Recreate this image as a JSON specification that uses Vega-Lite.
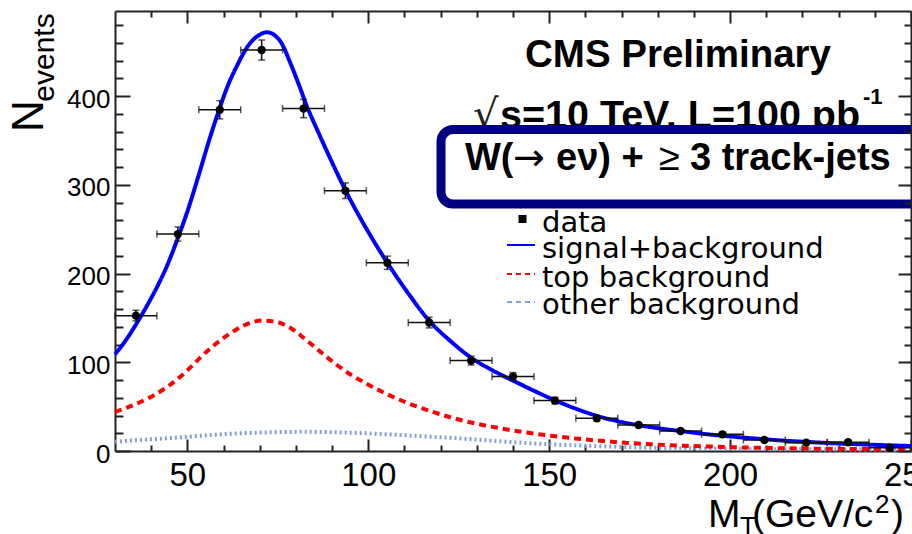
{
  "$schema": "https://vega.github.io/schema/vega-lite/v6.json",
  "width": 796,
  "height": 440,
  "autosize": {"type": "none"},
  "padding": {"left": 115, "top": 11, "right": 1, "bottom": 83},
  "background": "white",
  "view": {"stroke": null},
  "config": {
    "axis": {"grid": false, "title": null, "tickColor": "#222", "tickWidth": 2, "domainColor": "#222", "domainWidth": 2, "labelFont": "Liberation Sans", "labelColor": "#000", "labelFlush": false, "labelOverlap": false}
  },
  "datasets": {
    "pts": [
      {"mt": 35.79, "lo": 30, "hi": 41.58, "n": 152.6, "nlo": 146.6, "nhi": 158.6},
      {"mt": 47.37, "lo": 41.58, "hi": 53.16, "n": 244.5, "nlo": 236.5, "nhi": 252.5},
      {"mt": 58.95, "lo": 53.16, "hi": 64.74, "n": 384.7, "nlo": 374.4, "nhi": 395},
      {"mt": 70.53, "lo": 64.74, "hi": 76.32, "n": 452, "nlo": 440.7, "nhi": 463.3},
      {"mt": 82.11, "lo": 76.32, "hi": 87.89, "n": 386, "nlo": 375.7, "nhi": 396.3},
      {"mt": 93.68, "lo": 87.89, "hi": 99.47, "n": 293.4, "nlo": 284.6, "nhi": 302.2},
      {"mt": 105.26, "lo": 99.47, "hi": 111.05, "n": 212.2, "nlo": 204.7, "nhi": 219.7},
      {"mt": 116.84, "lo": 111.05, "hi": 122.63, "n": 144.8, "nlo": 138.8, "nhi": 150.8},
      {"mt": 128.42, "lo": 122.63, "hi": 134.21, "n": 101.9, "nlo": 96.9, "nhi": 106.9},
      {"mt": 140, "lo": 134.21, "hi": 145.79, "n": 83.9, "nlo": 79.4, "nhi": 88.4},
      {"mt": 151.58, "lo": 145.79, "hi": 157.37, "n": 56.8, "nlo": 53, "nhi": 60.6},
      {"mt": 163.16, "lo": 157.37, "hi": 168.95, "n": 36.9, "nlo": 33.9, "nhi": 39.9},
      {"mt": 174.74, "lo": 168.95, "hi": 180.53, "n": 29.3, "nlo": 26.6, "nhi": 32},
      {"mt": 186.32, "lo": 180.53, "hi": 192.11, "n": 22.6, "nlo": 20.2, "nhi": 25},
      {"mt": 197.89, "lo": 192.11, "hi": 203.68, "n": 18.8, "nlo": 16.6, "nhi": 21},
      {"mt": 209.47, "lo": 203.68, "hi": 215.26, "n": 12.4, "nlo": 10.6, "nhi": 14.2},
      {"mt": 221.05, "lo": 215.26, "hi": 226.84, "n": 9.4, "nlo": 7.9, "nhi": 10.9},
      {"mt": 232.63, "lo": 226.84, "hi": 238.42, "n": 9.8, "nlo": 8.2, "nhi": 11.4},
      {"mt": 244.21, "lo": 238.42, "hi": 250, "n": 3.7, "nlo": 2.7, "nhi": 4.7}
    ],
    "curves": [
      {"s": "other", "x": 30, "y": 10.5}, {"s": "other", "x": 37, "y": 12.5}, {"s": "other", "x": 44.3, "y": 14.3}, {"s": "other", "x": 53, "y": 17}, {"s": "other", "x": 62.7, "y": 19.6}, {"s": "other", "x": 72, "y": 21}, {"s": "other", "x": 83, "y": 21.6}, {"s": "other", "x": 91, "y": 21.1}, {"s": "other", "x": 99.6, "y": 19.9}, {"s": "other", "x": 112, "y": 17.3}, {"s": "other", "x": 125.5, "y": 14.1}, {"s": "other", "x": 133, "y": 12}, {"s": "other", "x": 141.2, "y": 9.6}, {"s": "other", "x": 150, "y": 7.6}, {"s": "other", "x": 159.7, "y": 6}, {"s": "other", "x": 168, "y": 4.8}, {"s": "other", "x": 178, "y": 3.8}, {"s": "other", "x": 190, "y": 3}, {"s": "other", "x": 205.3, "y": 2.3}, {"s": "other", "x": 225, "y": 1.8}, {"s": "other", "x": 250, "y": 1.5},
      {"s": "top", "x": 30, "y": 44}, {"s": "top", "x": 33, "y": 48.5}, {"s": "top", "x": 36.9, "y": 55}, {"s": "top", "x": 41, "y": 63.5}, {"s": "top", "x": 45.2, "y": 74.5}, {"s": "top", "x": 49.5, "y": 89}, {"s": "top", "x": 53.5, "y": 105}, {"s": "top", "x": 57, "y": 118}, {"s": "top", "x": 60.9, "y": 130}, {"s": "top", "x": 64, "y": 138}, {"s": "top", "x": 67, "y": 144}, {"s": "top", "x": 70.8, "y": 147}, {"s": "top", "x": 74, "y": 146}, {"s": "top", "x": 78.4, "y": 139}, {"s": "top", "x": 82, "y": 128}, {"s": "top", "x": 86.7, "y": 112}, {"s": "top", "x": 91, "y": 98}, {"s": "top", "x": 95, "y": 86.5}, {"s": "top", "x": 99, "y": 77}, {"s": "top", "x": 104.2, "y": 66}, {"s": "top", "x": 110, "y": 55.5}, {"s": "top", "x": 117.2, "y": 45}, {"s": "top", "x": 122.7, "y": 38}, {"s": "top", "x": 129, "y": 31.5}, {"s": "top", "x": 136.5, "y": 25.6}, {"s": "top", "x": 143, "y": 21.2}, {"s": "top", "x": 150.4, "y": 17.3}, {"s": "top", "x": 157, "y": 14.2}, {"s": "top", "x": 164.2, "y": 11.5}, {"s": "top", "x": 171, "y": 9.3}, {"s": "top", "x": 178, "y": 7.6}, {"s": "top", "x": 187, "y": 6}, {"s": "top", "x": 196.5, "y": 4.8}, {"s": "top", "x": 205, "y": 3.9}, {"s": "top", "x": 214.9, "y": 3.1}, {"s": "top", "x": 232, "y": 2.3}, {"s": "top", "x": 250, "y": 1.9},
      {"s": "sig", "x": 30, "y": 109}, {"s": "sig", "x": 33, "y": 125}, {"s": "sig", "x": 36, "y": 144}, {"s": "sig", "x": 39, "y": 165}, {"s": "sig", "x": 42, "y": 188}, {"s": "sig", "x": 44.3, "y": 208}, {"s": "sig", "x": 47, "y": 236}, {"s": "sig", "x": 50, "y": 270}, {"s": "sig", "x": 53.5, "y": 316}, {"s": "sig", "x": 56, "y": 350}, {"s": "sig", "x": 58.8, "y": 385}, {"s": "sig", "x": 61, "y": 410}, {"s": "sig", "x": 63.8, "y": 435}, {"s": "sig", "x": 67.2, "y": 459}, {"s": "sig", "x": 69.5, "y": 468}, {"s": "sig", "x": 72, "y": 472}, {"s": "sig", "x": 74, "y": 469}, {"s": "sig", "x": 76, "y": 460}, {"s": "sig", "x": 78.4, "y": 438}, {"s": "sig", "x": 81, "y": 411}, {"s": "sig", "x": 83, "y": 389}, {"s": "sig", "x": 86, "y": 361}, {"s": "sig", "x": 89, "y": 334}, {"s": "sig", "x": 93.8, "y": 293}, {"s": "sig", "x": 100, "y": 247}, {"s": "sig", "x": 105.3, "y": 212}, {"s": "sig", "x": 111, "y": 178}, {"s": "sig", "x": 116.8, "y": 147}, {"s": "sig", "x": 122.7, "y": 124}, {"s": "sig", "x": 128.5, "y": 105}, {"s": "sig", "x": 134.3, "y": 91}, {"s": "sig", "x": 140.2, "y": 79}, {"s": "sig", "x": 146, "y": 67.5}, {"s": "sig", "x": 151.7, "y": 57}, {"s": "sig", "x": 157.5, "y": 47.5}, {"s": "sig", "x": 163.3, "y": 39.5}, {"s": "sig", "x": 169, "y": 33.5}, {"s": "sig", "x": 174.8, "y": 29}, {"s": "sig", "x": 180.5, "y": 25.5}, {"s": "sig", "x": 186.3, "y": 22.5}, {"s": "sig", "x": 192, "y": 19.6}, {"s": "sig", "x": 198.3, "y": 17}, {"s": "sig", "x": 204, "y": 15}, {"s": "sig", "x": 209.9, "y": 13.1}, {"s": "sig", "x": 215.5, "y": 11.5}, {"s": "sig", "x": 221.4, "y": 10.2}, {"s": "sig", "x": 227, "y": 9}, {"s": "sig", "x": 233, "y": 8}, {"s": "sig", "x": 241, "y": 6.8}, {"s": "sig", "x": 250, "y": 5.6}
    ]
  },
  "resolve": {"axis": {"x": "independent", "y": "independent"}},
  "layer": [
    {
      "data": {"name": "curves"},
      "mark": {"type": "line", "strokeWidth": 4, "interpolate": "monotone"},
      "encoding": {
        "x": {"field": "x", "type": "quantitative", "scale": {"domain": [30, 250], "nice": false, "zero": false},
              "axis": {"orient": "top", "values": [40, 60, 70, 80, 90, 110, 120, 130, 140, 160, 170, 180, 190, 210, 220, 230, 240], "labels": false, "domain": false, "tickSize": -6}},
        "y": {"field": "y", "type": "quantitative", "scale": {"domain": [0, 496], "nice": false, "zero": false},
              "axis": {"orient": "right", "values": [20, 40, 60, 80, 120, 140, 160, 180, 220, 240, 260, 280, 320, 340, 360, 380, 420, 440, 460, 480], "labels": false, "domain": false, "tickSize": -7, "zindex": 2}},
        "color": {"field": "s", "type": "nominal", "scale": {"domain": ["other", "top", "sig"], "range": ["#7f9fdf", "#ff0000", "#0000ff"]}, "legend": null},
        "strokeDash": {"field": "s", "type": "nominal", "scale": {"domain": ["other", "top", "sig"], "range": [[2, 3], [7, 5], [1, 0]]}, "legend": null}
      }
    },
    {
      "data": {"name": "pts"},
      "mark": {"type": "rule", "strokeWidth": 1.5, "color": "#111"},
      "encoding": {
        "x": {"field": "lo", "type": "quantitative", "scale": {"domain": [30, 250], "nice": false, "zero": false},
              "axis": {"orient": "top", "values": [50, 100, 150, 200, 250], "labels": false, "domain": true, "tickSize": -12}},
        "x2": {"field": "hi"},
        "y": {"field": "n", "type": "quantitative", "scale": {"domain": [0, 496], "nice": false, "zero": false},
              "axis": {"orient": "right", "values": [0, 100, 200, 300, 400], "labels": false, "domain": true, "tickSize": -13, "zindex": 2}}
      }
    },
    {
      "data": {"name": "pts"},
      "mark": {"type": "rule", "strokeWidth": 1.5, "color": "#111"},
      "encoding": {
        "x": {"field": "mt", "type": "quantitative", "scale": {"domain": [30, 250], "nice": false, "zero": false},
              "axis": {"orient": "bottom", "values": [40, 60, 70, 80, 90, 110, 120, 130, 140, 160, 170, 180, 190, 210, 220, 230, 240], "labels": false, "domain": false, "tickSize": -6}},
        "y": {"field": "nlo", "type": "quantitative", "scale": {"domain": [0, 496], "nice": false, "zero": false},
              "axis": {"orient": "left", "values": [20, 40, 60, 80, 120, 140, 160, 180, 220, 240, 260, 280, 320, 340, 360, 380, 420, 440, 460, 480], "labels": false, "domain": false, "tickSize": -8}},
        "y2": {"field": "nhi"}
      }
    },
    {
      "data": {"name": "pts"},
      "transform": [{"fold": ["lo", "hi"], "as": ["side", "xv"]}],
      "mark": {"type": "tick", "orient": "vertical", "size": 7, "thickness": 1.5, "color": "#111"},
      "encoding": {
        "x": {"field": "xv", "type": "quantitative", "scale": {"domain": [30, 250], "nice": false, "zero": false},
              "axis": {"orient": "bottom", "values": [50, 100, 150, 200, 250], "labels": false, "domain": false, "tickSize": -12}},
        "y": {"field": "n", "type": "quantitative", "scale": {"domain": [0, 496], "nice": false, "zero": false},
              "axis": {"orient": "left", "values": [0, 100, 200, 300, 400], "labels": false, "domain": false, "tickSize": -15}}
      }
    },
    {
      "data": {"name": "pts"},
      "transform": [{"fold": ["nlo", "nhi"], "as": ["side", "yv"]}],
      "mark": {"type": "tick", "orient": "horizontal", "size": 7, "thickness": 1.5, "color": "#111"},
      "encoding": {
        "x": {"field": "mt", "type": "quantitative", "scale": {"domain": [30, 250], "nice": false, "zero": false}, "axis": null},
        "y": {"field": "yv", "type": "quantitative", "scale": {"domain": [0, 496], "nice": false, "zero": false}, "axis": null}
      }
    },
    {
      "data": {"name": "pts"},
      "mark": {"type": "circle", "size": 70, "color": "#000", "opacity": 1},
      "encoding": {
        "x": {"field": "mt", "type": "quantitative", "scale": {"domain": [30, 250], "nice": false, "zero": false},
              "axis": {"orient": "bottom", "values": [50, 100, 150, 200, 250], "ticks": false, "domain": true, "labelFontSize": 33, "labelPadding": 8, "labelBaseline": "top"}},
        "y": {"field": "n", "type": "quantitative", "scale": {"domain": [0, 496], "nice": false, "zero": false},
              "axis": {"orient": "left", "values": [0, 100, 200, 300, 400], "ticks": false, "domain": true, "labelFontSize": 26, "labelPadding": 5, "labelOffset": 3}}
      }
    },
    {
      "data": {"values": [{"t": "CMS Preliminary"}]},
      "mark": {"type": "text", "font": "Liberation Sans", "fontWeight": "bold", "fontSize": 38.5, "align": "center", "baseline": "alphabetic", "color": "#000"},
      "encoding": {"x": {"value": 563}, "y": {"value": 56}, "text": {"field": "t"}}
    },
    {
      "data": {"values": [{"t": "√"}]},
      "mark": {"type": "text", "font": "DejaVu Sans", "fontSize": 40, "align": "left", "baseline": "alphabetic", "color": "#222"},
      "encoding": {"x": {"value": 358}, "y": {"value": 117}, "text": {"field": "t"}}
    },
    {
      "data": {"values": [{"t": "s=10 TeV, L=100 pb"}]},
      "mark": {"type": "text", "font": "Liberation Sans", "fontWeight": "bold", "fontSize": 39.5, "align": "left", "baseline": "alphabetic", "color": "#000"},
      "encoding": {"x": {"value": 385}, "y": {"value": 117}, "text": {"field": "t"}}
    },
    {
      "data": {"values": [{"t": "-1"}]},
      "mark": {"type": "text", "font": "Liberation Sans", "fontWeight": "bold", "fontSize": 22, "align": "left", "baseline": "alphabetic", "color": "#000"},
      "encoding": {"x": {"value": 748}, "y": {"value": 93}, "text": {"field": "t"}}
    },
    {
      "data": {"values": [{"t": "box"}]},
      "mark": {"type": "rect", "fill": "white", "stroke": "#000080", "strokeWidth": 9, "cornerRadius": 12},
      "encoding": {"x": {"value": 326}, "x2": {"value": 815}, "y": {"value": 118.5}, "y2": {"value": 193}}
    },
    {
      "data": {"values": [{"t": "W(", "xx": 350}, {"t": "eν) +", "xx": 441}, {"t": "3 track-jets", "xx": 575}]},
      "mark": {"type": "text", "font": "Liberation Sans", "fontWeight": "bold", "fontSize": 38, "align": "left", "baseline": "alphabetic", "color": "#000"},
      "encoding": {"x": {"field": "xx", "type": "quantitative", "scale": null}, "y": {"value": 159}, "text": {"field": "t"}}
    },
    {
      "data": {"values": [{"t": "→"}]},
      "mark": {"type": "text", "font": "DejaVu Sans", "fontSize": 38, "align": "left", "baseline": "alphabetic", "color": "#000"},
      "encoding": {"x": {"value": 398}, "y": {"value": 159}, "text": {"field": "t"}}
    },
    {
      "data": {"values": [{"t": "≥"}]},
      "mark": {"type": "text", "font": "Liberation Sans", "fontSize": 38, "align": "left", "baseline": "alphabetic", "color": "#000"},
      "encoding": {"x": {"value": 544}, "y": {"value": 159}, "text": {"field": "t"}}
    },
    {
      "data": {"values": [{"t": "sq"}]},
      "mark": {"type": "square", "size": 64, "color": "#000", "opacity": 1},
      "encoding": {"x": {"value": 407.5}, "y": {"value": 208}}
    },
    {
      "data": {"values": [{"t": "sig"}]},
      "mark": {"type": "rule", "stroke": "#0000ff", "strokeWidth": 2},
      "encoding": {"x": {"value": 392}, "x2": {"value": 420}, "y": {"value": 234}}
    },
    {
      "data": {"values": [{"t": "top"}]},
      "mark": {"type": "rule", "stroke": "#ff0000", "strokeWidth": 2, "strokeDash": [5, 4]},
      "encoding": {"x": {"value": 392}, "x2": {"value": 420}, "y": {"value": 263}}
    },
    {
      "data": {"values": [{"t": "other"}]},
      "mark": {"type": "rule", "stroke": "#7f9fdf", "strokeWidth": 2, "strokeDash": [5, 4]},
      "encoding": {"x": {"value": 392}, "x2": {"value": 420}, "y": {"value": 291}}
    },
    {
      "data": {"values": [{"t": "data", "yy": 220.7}, {"t": "signal+background", "yy": 246.7}, {"t": "top background", "yy": 275.7}, {"t": "other background", "yy": 303.4}]},
      "mark": {"type": "text", "font": "DejaVu Sans", "fontSize": 29, "align": "left", "baseline": "alphabetic", "color": "#000"},
      "encoding": {"x": {"value": 427}, "y": {"field": "yy", "type": "quantitative", "scale": null}, "text": {"field": "t"}}
    },
    {
      "data": {"values": [{"t": "N"}]},
      "mark": {"type": "text", "font": "Liberation Sans", "fontSize": 44, "angle": 270, "align": "left", "baseline": "alphabetic", "color": "#000"},
      "encoding": {"x": {"value": -72}, "y": {"value": 121}, "text": {"field": "t"}}
    },
    {
      "data": {"values": [{"t": "events"}]},
      "mark": {"type": "text", "font": "Liberation Sans", "fontSize": 30, "angle": 270, "align": "left", "baseline": "alphabetic", "color": "#000"},
      "encoding": {"x": {"value": -61.5}, "y": {"value": 90.7}, "text": {"field": "t"}}
    },
    {
      "data": {"values": [{"t": "M", "xx": 593, "yy": 516}, {"t": "(GeV/c", "xx": 637, "yy": 516}, {"t": ")", "xx": 776, "yy": 516}]},
      "mark": {"type": "text", "font": "Liberation Sans", "fontSize": 39, "align": "left", "baseline": "alphabetic", "color": "#000"},
      "encoding": {"x": {"field": "xx", "type": "quantitative", "scale": null}, "y": {"field": "yy", "type": "quantitative", "scale": null}, "text": {"field": "t"}}
    },
    {
      "data": {"values": [{"t": "T", "xx": 625, "yy": 524}, {"t": "2", "xx": 760, "yy": 502}]},
      "mark": {"type": "text", "font": "Liberation Sans", "fontSize": 26, "align": "left", "baseline": "alphabetic", "color": "#000"},
      "encoding": {"x": {"field": "xx", "type": "quantitative", "scale": null}, "y": {"field": "yy", "type": "quantitative", "scale": null}, "text": {"field": "t"}}
    }
  ]
}
